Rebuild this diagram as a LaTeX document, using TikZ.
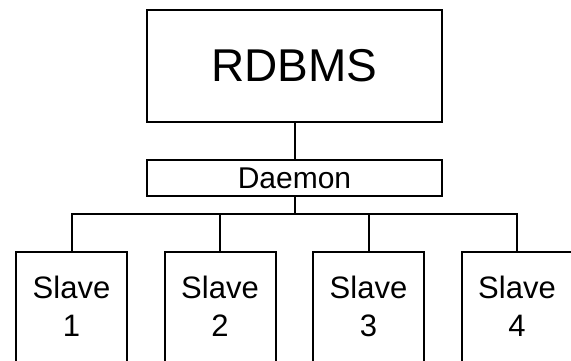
\documentclass[tikz,border=0pt]{standalone}
\usepackage{fontspec}
\setmainfont{Liberation Sans}
\begin{document}
\begin{tikzpicture}[x=1pt,y=-1pt,
  box/.style={draw=black,line width=2pt,inner sep=0pt,fill=white},
  wire/.style={draw=black,line width=2pt},
  slavetext/.style={inner sep=0pt,align=center,font=\fontsize{31}{38}\selectfont}]
\useasboundingbox (0,0) rectangle (571,361);
\clip (0,0) rectangle (571,361);
\node[box,minimum width=295pt,minimum height=111.5pt,font=\fontsize{46}{50}\selectfont] (rdbms) at (294.5,66) {RDBMS};
\node[box,minimum width=295pt,minimum height=36pt,font=\fontsize{30}{32}\selectfont] (daemon) at (294.5,178) {Daemon};
\coordinate (bus) at (294.5,214);
\node[box,minimum width=111pt,minimum height=148pt] (s1) at (71.5,326) {};
\node[box,minimum width=111pt,minimum height=148pt] (s2) at (220,326) {};
\node[box,minimum width=111pt,minimum height=148pt] (s3) at (368.5,326) {};
\node[box,minimum width=111pt,minimum height=148pt] (s4) at (517,326) {};
\node[slavetext] (t1) at (71.5,306) {Slave\\1};
\node[slavetext] (t2) at (220,306) {Slave\\2};
\node[slavetext] (t3) at (368.5,306) {Slave\\3};
\node[slavetext] (t4) at (517,306) {Slave\\4};
\draw[wire] (rdbms.south) -- (daemon.north);
\draw[wire] (daemon.south) -- (bus);
\draw[wire] (s1.north) |- (bus) -| (s4.north);
\draw[wire] (s2.north) |- (bus);
\draw[wire] (s3.north) |- (bus);
\end{tikzpicture}
\end{document}
